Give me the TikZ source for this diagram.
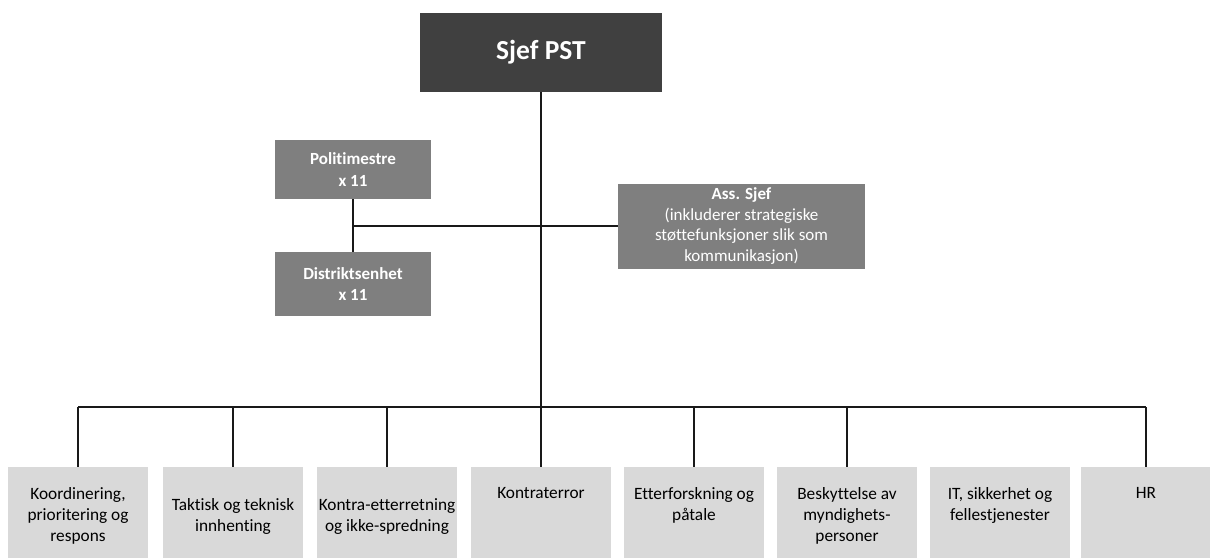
\documentclass[tikz,border=0pt]{standalone}
\usepackage{fontspec}
\setmainfont[Ligatures={NoCommon}]{Carlito}
\definecolor{darkbox}{HTML}{404040}
\definecolor{midbox}{HTML}{7F7F7F}
\definecolor{lightbox}{HTML}{D9D9D9}
\begin{document}
\begin{tikzpicture}[x=1pt,y=-1pt,
  boxbase/.style={inner sep=0pt, outer sep=0pt, draw=none},
  chief/.style={boxbase, fill=darkbox, text=white, font=\fontsize{27.5}{32}\selectfont\bfseries},
  midunit/.style={boxbase, fill=midbox, text=white, align=center, font=\fontsize{17}{21.5}\selectfont},
  dept/.style={boxbase, fill=lightbox, minimum width=140pt, minimum height=91pt},
  depttext/.style={inner sep=0pt, anchor=north, align=center, text=black, font=\fontsize{17.3}{21}\selectfont},
  conn/.style={line width=2pt, draw=black!90}]
\useasboundingbox (0,0) rectangle (1210,557);
\fill[white] (0,0) rectangle (1210,557);

% top
\node[chief, minimum width=242pt, minimum height=79pt] (sjef) at (541,52.5) {Sjef PST};

% middle
\node[midunit, minimum width=156pt, minimum height=59pt] (pol) at (353,169.5) {\bfseries Politimestre\\\bfseries x 11};
\node[midunit, minimum width=156pt, minimum height=64pt] (dis) at (353,284) {\bfseries Distriktsenhet\\\bfseries x 11};
\node[midunit, minimum width=247pt, minimum height=85pt, font=\fontsize{17}{20.5}\selectfont] (ass) at (741.5,226)
  {\bfseries Ass. Sjef\\(inkluderer strategiske\\støttefunksjoner slik som\\kommunikasjon)};

% bottom boxes
\node[dept] (b1) at (78,512.5) {};
\node[dept] (b2) at (233,512.5) {};
\node[dept] (b3) at (387,512.5) {};
\node[dept] (b4) at (541,512.5) {};
\node[dept] (b5) at (694,512.5) {};
\node[dept] (b6) at (847,512.5) {};
\node[dept] (b7) at (1000,512.5) {};
\node[dept, minimum width=130pt] (b8) at (1146,512.5) {};

\node[depttext] (t1) at (78,487.5) {Koordinering,\\prioritering og\\respons};
\node[depttext] (t2) at (233,498.5) {Taktisk og teknisk\\innhenting};
\node[depttext] (t3) at (387,498.5) {Kontra-etterretning\\og ikke-spredning};
\node[depttext] (t4) at (541,487.5) {Kontraterror};
\node[depttext] (t5) at (694,487.5) {Etterforskning og\\påtale};
\node[depttext] (t6) at (847,487.5) {Beskyttelse av\\myndighets-\\personer};
\node[depttext] (t7) at (1000,487.5) {IT, sikkerhet og\\fellestjenester};
\node[depttext] (t8) at (1146,487.5) {HR};

% connectors
\coordinate (bus) at (541,407);
\draw[conn] (sjef.south) -- (bus);
\draw[conn] (pol.south) -- (dis.north);
\draw[conn] (pol.south |- ass.west) -- (ass.west);
\draw[conn] (b1.north |- bus) -- (b8.north |- bus);
\foreach \b in {b1,b2,b3,b4,b5,b6,b8}{
  \draw[conn] (\b.north |- bus) -- (\b.north);
}
\end{tikzpicture}
\end{document}
